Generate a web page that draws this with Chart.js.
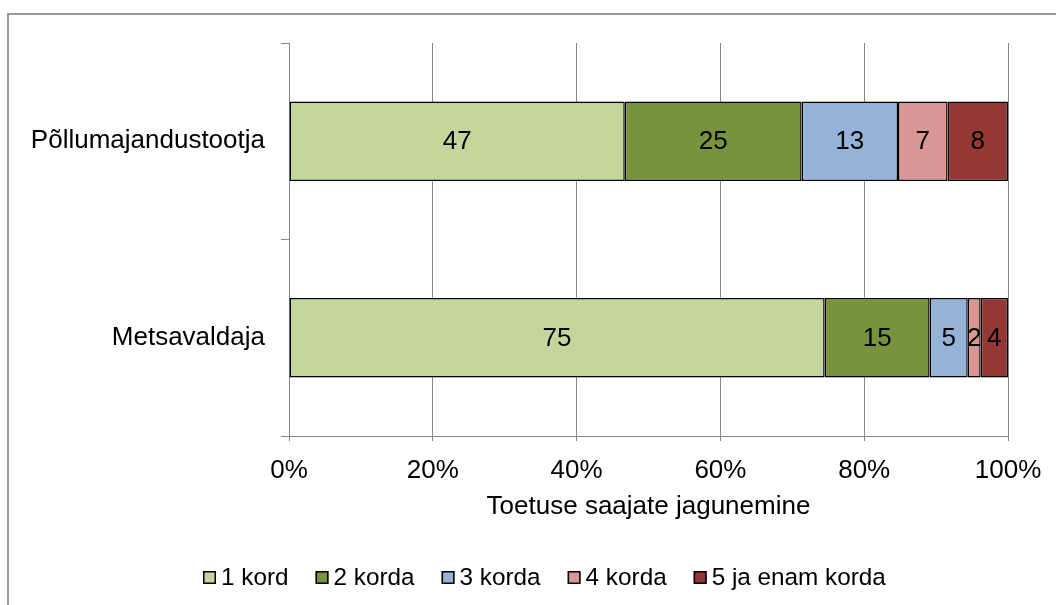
<!DOCTYPE html>
<html>
<head>
<meta charset="utf-8">
<script src="https://cdn.jsdelivr.net/npm/chart.js@4"></script>
<style>
  html, body { margin: 0; padding: 0; background: #fff; }
  #wrap { width: 1056px; height: 605px; }
</style>
</head>
<body>
<div id="wrap"><canvas id="chart"></canvas></div>
<script>
// categories and series (share in %)
const categories = ['Põllumajandustootja', 'Metsavaldaja'];
const seriesNames = ['1 kord', '2 korda', '3 korda', '4 korda', '5 ja enam korda'];
const kord1 = [46.7, 74.5];
const korda2 = [24.6, 14.6];
const korda3 = [13.4, 5.3];
const korda4 = [6.9, 1.8];
const korda5 = [8.4, 3.8];
const xTicks = [0, 20, 40, 60, 80, 100];
const colors = ['#c3d69b', '#77933c', '#95b3d7', '#d99694', '#953735'];

const FONT = "'Liberation Sans', Arial, sans-serif";
const GRID = '#868686';

const series = [kord1, korda2, korda3, korda4, korda5];

// outer frame (only top and left edge are visible in the picture)
const framePlugin = {
    id: 'frame',
    beforeDraw(chart) {
        const ctx = chart.ctx;
        ctx.save();
        ctx.strokeStyle = '#9a9a9a';
        ctx.lineWidth = 2;
        ctx.beginPath();
        ctx.moveTo(8, 605);
        ctx.lineTo(8, 14);
        ctx.lineTo(1056, 14);
        ctx.stroke();
        ctx.restore();
    }
};

// numbers inside the bar segments
const valueLabels = {
    id: 'valueLabels',
    afterDatasetsDraw(chart) {
        const ctx = chart.ctx;
        ctx.save();
        ctx.font = '26px ' + FONT;
        ctx.fillStyle = '#000';
        ctx.textAlign = 'center';
        ctx.textBaseline = 'middle';
        chart.data.datasets.forEach((ds, i) => {
            chart.getDatasetMeta(i).data.forEach((bar, j) => {
                const p = bar.getCenterPoint();
                ctx.fillText(Math.round(ds.data[j]), p.x, p.y + 1);
            });
        });
        ctx.restore();
    }
};

// legend with Excel-like spacing
const bottomLegend = {
    id: 'bottomLegend',
    afterDraw(chart) {
        const ctx = chart.ctx;
        ctx.save();
        ctx.font = '24.3px ' + FONT;
        ctx.textBaseline = 'middle';
        let x = 203;
        const y = 577;
        chart.data.datasets.forEach(ds => {
            ctx.fillStyle = ds.backgroundColor;
            ctx.fillRect(x, y - 6, 13, 13);
            ctx.strokeStyle = '#000';
            ctx.lineWidth = 1.5;
            ctx.strokeRect(x + 0.75, y - 5.25, 11.5, 11.5);
            ctx.fillStyle = '#000';
            ctx.fillText(ds.label, x + 18, y + 1);
            x += 18 + ctx.measureText(ds.label).width + 27;
        });
        ctx.restore();
    }
};

new Chart(document.getElementById('chart'), {
    type: 'bar',
    data: {
        labels: categories,
        datasets: series.map((d, i) => ({
            label: seriesNames[i],
            data: d,
            backgroundColor: colors[i],
            borderColor: '#000',
            borderWidth: 1.5,
            borderSkipped: false,
            categoryPercentage: 1,
            barPercentage: 0.405
        }))
    },
    options: {
        indexAxis: 'y',
        responsive: true,
        maintainAspectRatio: false,
        animation: false,
        layout: { padding: { left: 0, right: 48, top: 43, bottom: 83 } },
        plugins: {
            legend: { display: false },
            tooltip: { enabled: false }
        },
        scales: {
            x: {
                stacked: true,
                min: 0,
                max: 100,
                afterFit: s => { s.height = 86; },
                afterBuildTicks: s => { s.ticks = xTicks.map(v => ({ value: v })); },
                ticks: {
                    color: '#000',
                    padding: 14,
                    font: { family: FONT, size: 26 },
                    callback: v => v + '%'
                },
                grid: { color: GRID, lineWidth: 1, tickLength: 5 },
                border: { color: GRID, width: 1 },
                title: {
                    display: true,
                    text: 'Toetuse saajate jagunemine',
                    color: '#000',
                    font: { family: FONT, size: 26 },
                    padding: { top: 0, bottom: 0 }
                }
            },
            y: {
                stacked: true,
                afterFit: s => { s.width = 289; },
                ticks: {
                    color: '#000',
                    padding: 16,
                    font: { family: FONT, size: 26 }
                },
                grid: { color: GRID, drawOnChartArea: false, tickLength: 8, offset: true },
                border: { color: GRID, width: 1 }
            }
        }
    },
    plugins: [framePlugin, valueLabels, bottomLegend]
});
</script>
</body>
</html>
